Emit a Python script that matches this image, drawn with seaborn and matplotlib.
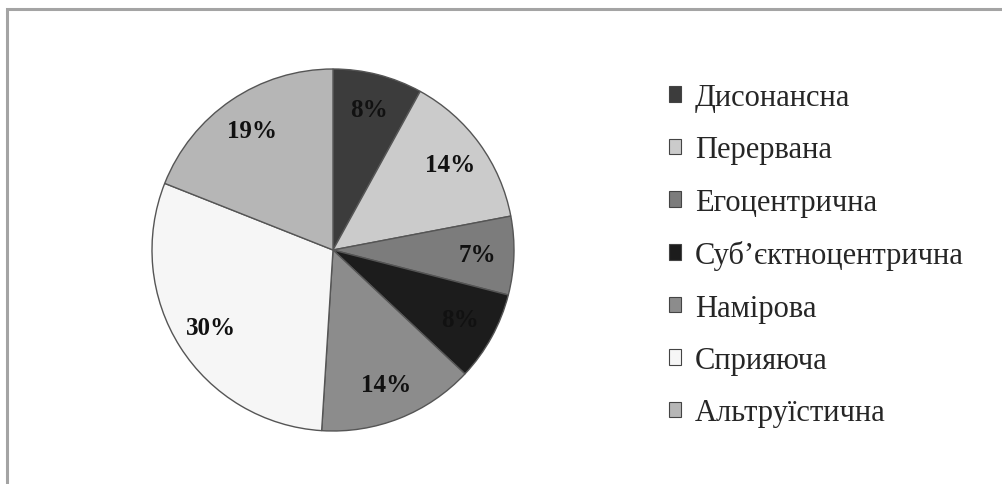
import matplotlib
matplotlib.use("Agg")
import matplotlib.pyplot as plt
import seaborn as sns
from matplotlib.patches import Rectangle

categories = ["Дисонансна", "Перервана", "Егоцентрична", "Суб’єктноцентрична",
              "Намірова", "Сприяюча", "Альтруїстична"]
values = [8, 14, 7, 8, 14, 30, 19]
labels = ["8%", "14%", "7%", "8%", "14%", "30%", "19%"]
colors = ["#3c3c3c", "#cbcbcb", "#7c7c7c", "#1c1c1c", "#8c8c8c", "#f6f6f6", "#b6b6b6"]

sns.set_theme(style="white")
plt.rcParams["font.family"] = ["Liberation Serif", "DejaVu Serif"]

fig = plt.figure(figsize=(10.03, 4.85), dpi=100)
fig.patch.set_facecolor("white")

# outer frame
fig.add_artist(Rectangle((7 / 1003, -0.1), 1.2, 1 - 10 / 485 + 0.1,
                         transform=fig.transFigure, fill=False,
                         edgecolor="#a4a4a4", linewidth=2.2))

ax = fig.add_axes([152 / 1003, (485 - 432) / 485, 362 / 1003, 362 / 485])
wedges, texts = ax.pie(values, colors=colors, startangle=90, counterclock=False,
                       labels=labels, labeldistance=0.80,
                       wedgeprops=dict(edgecolor="#555555", linewidth=1.0),
                       textprops=dict(fontsize=18, color="#111111", fontweight="bold"))
for t in texts:
    t.set_horizontalalignment("center")
    t.set_verticalalignment("center")
ax.set_xlim(-1.0, 1.0)
ax.set_ylim(-1.0, 1.0)
ax.set_aspect("equal")
ax.axis("off")

leg = fig.legend(wedges, categories, loc="upper left",
                 bbox_to_anchor=(669 / 1003, 1 - 84 / 485),
                 frameon=False, fontsize=22, handlelength=0.4, handleheight=0.4,
                 handletextpad=0.45, labelspacing=0.765, borderpad=0, borderaxespad=0)
for h in leg.legend_handles:
    h.set_edgecolor("#444444")
    h.set_linewidth(0.8)

fig.savefig("out.png", dpi=100, facecolor="white")
